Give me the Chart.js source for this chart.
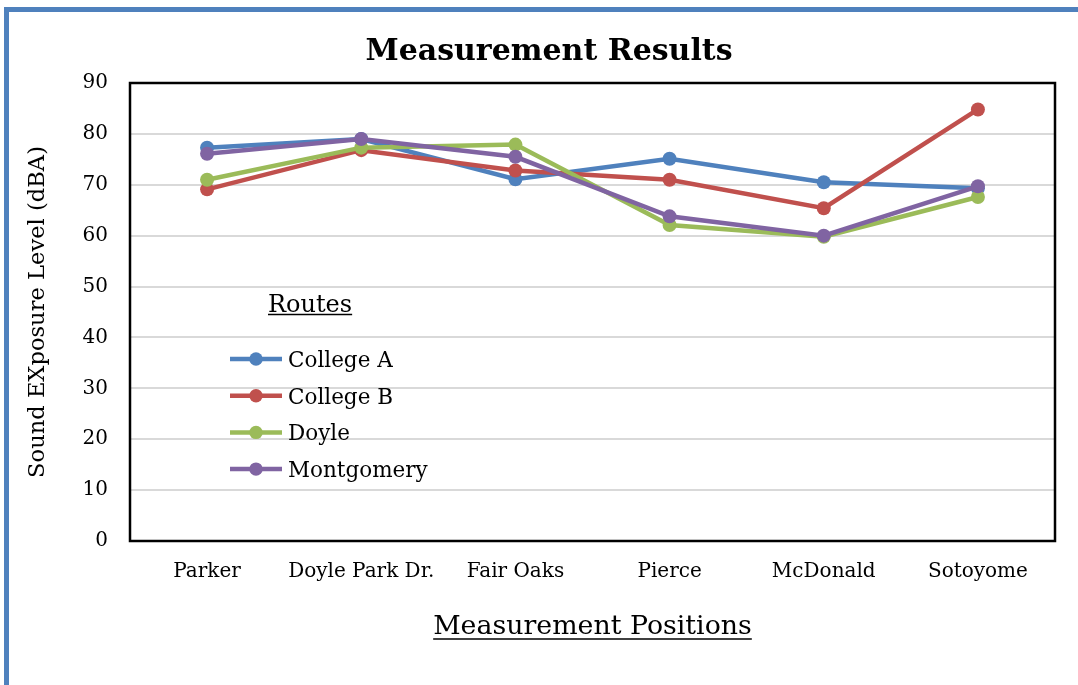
<!DOCTYPE html>
<html>
<head>
<meta charset="utf-8">
<script src="https://cdn.jsdelivr.net/npm/chart.js@4"></script>
<style>
  html, body { margin: 0; padding: 0; background: #fff; }
  #wrap { position: relative; width: 1078px; height: 685px; overflow: hidden; }
  #frame { position: absolute; left: 4px; top: 7px; width: 1200px; height: 800px;
           border-left: 5px solid #4F81BD; border-top: 5px solid #4F81BD; }
  canvas { position: absolute; left: 0; top: 0; }
</style>
</head>
<body>
<div id="wrap">
  <div id="frame"></div>
  <canvas id="chart" width="1078" height="685"></canvas>
</div>
<script>
const positions = ['Parker', 'Doyle Park Dr.', 'Fair Oaks', 'Pierce', 'McDonald', 'Sotoyome'];
const routes = ['College A', 'College B', 'Doyle', 'Montgomery'];
const collegeA = [77.3, 79.0, 71.1, 75.1, 70.5, 69.3];
const collegeB = [69.1, 76.8, 72.8, 71.0, 65.4, 84.8];
const doyle = [71.0, 77.3, 77.9, 62.1, 59.8, 67.6];
const montgomery = [76.1, 79.0, 75.5, 63.8, 60.0, 69.7];
const colors = ['#4F81BD', '#C0504D', '#9BBB59', '#8064A2'];

const FONT = "'DejaVu Serif', serif";

function series(i, values) {
  return {
    label: routes[i],
    data: values,
    borderColor: colors[i],
    backgroundColor: colors[i],
    pointBackgroundColor: colors[i],
    pointBorderColor: colors[i],
    borderWidth: 4.5,
    pointRadius: 7,
    pointBorderWidth: 0,
    tension: 0,
    order: 4 - i
  };
}

// legend drawn inside the plot area, plus plot frame and underlines
const extras = {
  id: 'extras',
  beforeDatasetsDraw(chart) {
    const { ctx, chartArea: a } = chart;
    ctx.save();
    ctx.strokeStyle = '#000';
    ctx.lineWidth = 2.5;
    ctx.strokeRect(a.left, a.top, a.right - a.left, a.bottom - a.top);
    ctx.restore();
  },
  afterDraw(chart) {
    const { ctx, chartArea: a } = chart;
    ctx.save();
    // legend title
    ctx.fillStyle = '#000';
    ctx.font = '24px ' + FONT;
    ctx.textBaseline = 'alphabetic';
    ctx.textAlign = 'left';
    const tx = a.left + 138, ty = a.top + 229;
    ctx.fillText('Routes', tx, ty);
    const rw = ctx.measureText('Routes').width;
    ctx.strokeStyle = '#000';
    ctx.lineWidth = 1.5;
    ctx.beginPath();
    ctx.moveTo(tx, ty + 2.5);
    ctx.lineTo(tx + rw, ty + 2.5);
    ctx.stroke();
    // legend items
    ctx.font = '21.5px ' + FONT;
    chart.data.datasets.forEach((ds, i) => {
      const by = a.top + 284 + i * 36.7;
      const my = by - 8;
      ctx.strokeStyle = ds.borderColor;
      ctx.lineWidth = 4.5;
      ctx.beginPath();
      ctx.moveTo(a.left + 100, my);
      ctx.lineTo(a.left + 152, my);
      ctx.stroke();
      ctx.fillStyle = ds.borderColor;
      ctx.beginPath();
      ctx.arc(a.left + 126, my, 6.7, 0, Math.PI * 2);
      ctx.fill();
      ctx.fillStyle = '#000';
      ctx.fillText(ds.label, a.left + 158, by);
    });
    // underline x axis title
    const xs = chart.scales.x;
    const t = xs.options.title;
    ctx.font = t.font.size + 'px ' + FONT;
    const w = ctx.measureText(t.text).width;
    const cx = (xs.left + xs.right) / 2;
    const uy = 627 + 12;
    ctx.strokeStyle = '#000';
    ctx.lineWidth = 1.5;
    ctx.beginPath();
    ctx.moveTo(cx - w / 2, uy);
    ctx.lineTo(cx + w / 2, uy);
    ctx.stroke();
    ctx.restore();
  }
};

new Chart(document.getElementById('chart'), {
  type: 'line',
  data: {
    labels: positions,
    datasets: [series(0, collegeA), series(1, collegeB), series(2, doyle), series(3, montgomery)]
  },
  options: {
    responsive: false,
    animation: false,
    devicePixelRatio: 1,
    layout: { padding: { left: 20, right: 0, top: 0, bottom: 0 } },
    plugins: {
      legend: { display: false },
      tooltip: { enabled: false },
      title: {
        display: true,
        text: 'Measurement Results',
        color: '#000',
        font: { family: FONT, size: 30, weight: 'bold' },
        padding: { top: 34, bottom: 13 }
      }
    },
    scales: {
      x: {
        offset: true,
        grid: { display: false, drawTicks: false },
        border: { display: false },
        ticks: { color: '#000', font: { family: FONT, size: 20 }, padding: 19, maxRotation: 0 },
        title: {
          display: true,
          text: 'Measurement Positions',
          color: '#000',
          font: { family: FONT, size: 26.8 },
          padding: { top: 0, bottom: 42 }
        },
        afterFit(scale) { scale.height = 144; }
      },
      y: {
        min: 0,
        max: 90,
        ticks: { stepSize: 10, color: '#000', font: { family: FONT, size: 20 }, padding: 22 },
        grid: { color: '#D9D9D9', lineWidth: 2, drawTicks: false },
        border: { display: false },
        title: {
          display: true,
          text: 'Sound EXposure Level (dBA)',
          color: '#000',
          font: { family: FONT, size: 22.6 },
          padding: { top: 4.5, bottom: 0 }
        },
        afterFit(scale) { scale.width = 110; }
      },
      yr: {
        position: 'right',
        display: true,
        grid: { display: false, drawTicks: false },
        border: { display: false },
        ticks: { display: false },
        afterFit(scale) { scale.width = 23; }
      }
    }
  },
  plugins: [extras]
});
</script>
</body>
</html>
